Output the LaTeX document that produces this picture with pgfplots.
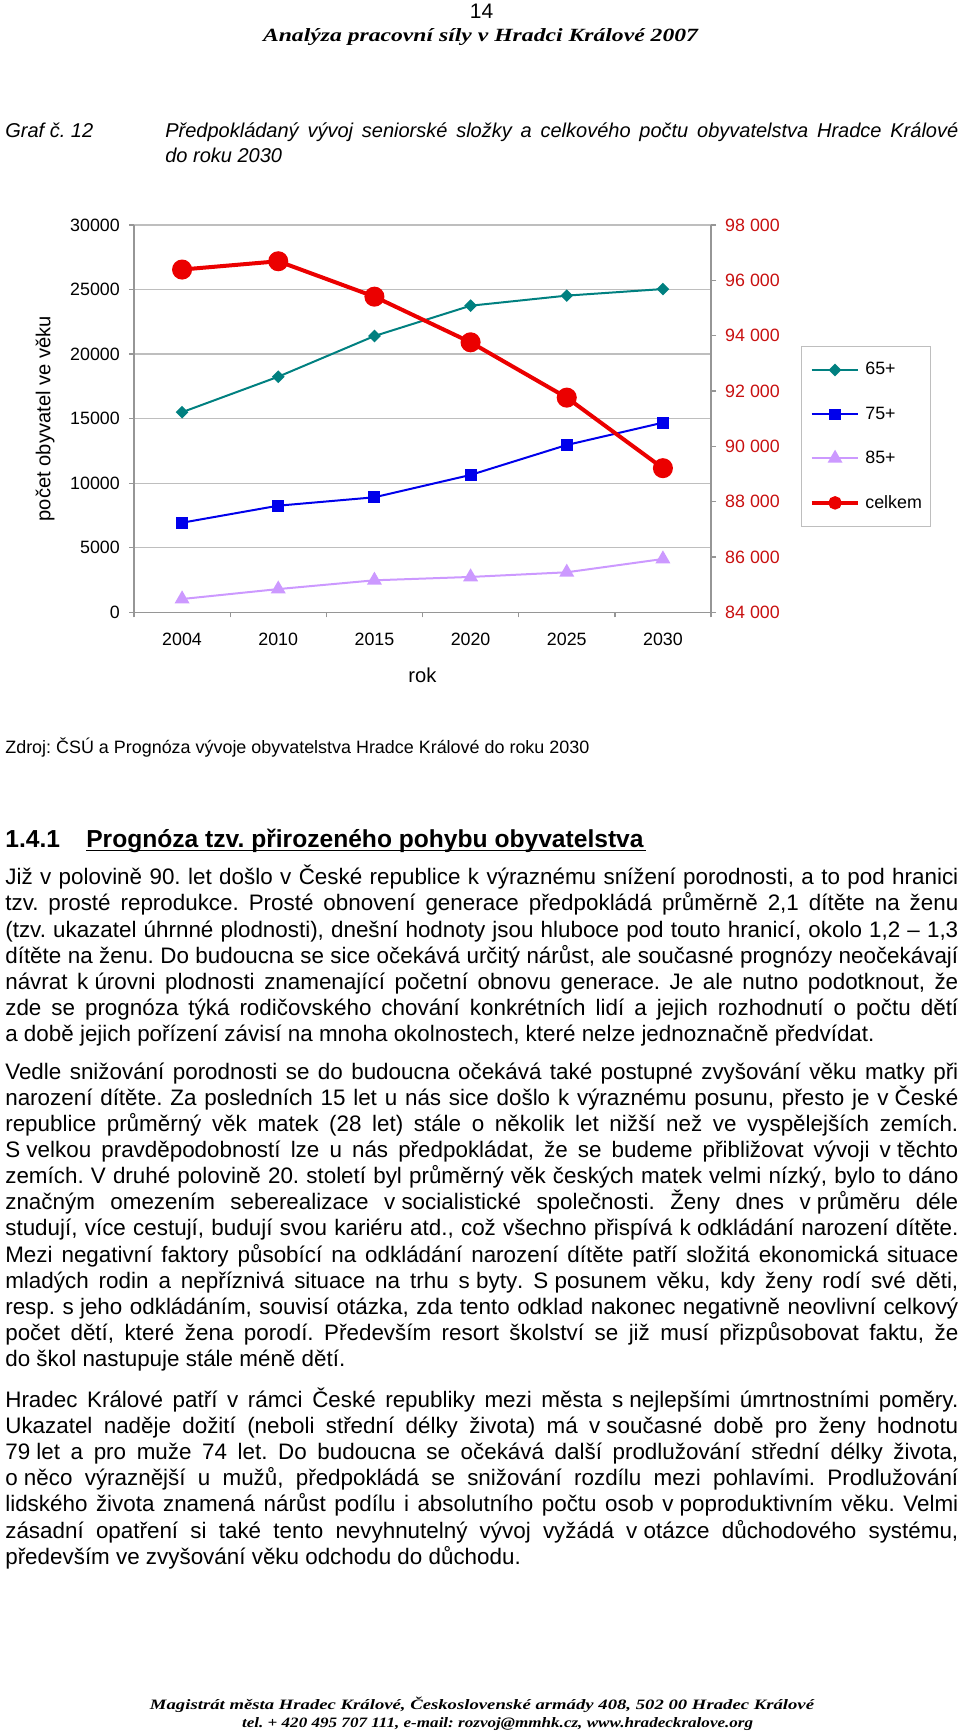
\documentclass[border=0pt]{standalone}
\usepackage{pgfplots}
\pgfplotsset{compat=1.18}
\usepackage{graphicx}
\usepackage{fontspec}
\setmainfont{Liberation Sans}
\newfontfamily\serifbi{Liberation Serif}
\definecolor{tealA}{RGB}{0,128,128}
\definecolor{blueB}{RGB}{0,0,235}
\definecolor{lavC}{RGB}{204,153,255}
\definecolor{redD}{RGB}{235,0,0}
\definecolor{darkr}{RGB}{200,16,16}
\definecolor{gridg}{RGB}{190,190,190}
\definecolor{axg}{RGB}{150,150,150}
\newcommand{\fs}[1]{\fontsize{#1}{#1}\selectfont}
\def\u{0.6pt}
\newcommand\nb[1]{\mbox{#1}}
\newcommand\JL[2]{\node[anchor=base west, inner sep=0pt, font=\fs{13.44}] at ({5*\u},{-#1*\u}) {\makebox[571.8pt][s]{#2}};}
\newcommand\LL[2]{\node[anchor=base west, inner sep=0pt, font=\fs{13.44}] at ({5*\u},{-#1*\u}) {#2};}
\frenchspacing
\begin{document}
\begin{tikzpicture}
\path[use as bounding box] (0,0) rectangle (576pt,-1040.4pt);

% header
\node[anchor=base, inner sep=0pt] at ({481.5*\u},{-18.5*\u}) {\fs{12.6}14};
\node[anchor=base, inner sep=0pt] at ({480.5*\u},{-41.7*\u}) {\resizebox{261pt}{\height}{\serifbi\bfseries\itshape\fs{11.2}Analýza pracovní síly v Hradci Králové 2007}};

% chart title
\node[anchor=base west, inner sep=0pt] at ({5*\u},{-138*\u}) {\fs{12}\itshape Graf č. 12};
\node[anchor=base west, inner sep=0pt] at ({165*\u},{-138*\u}) {\fs{12}\itshape\makebox[475.8pt][s]{Předpokládaný vývoj seniorské složky a celkového počtu obyvatelstva Hradce Králové}};
\node[anchor=base west, inner sep=0pt] at ({165*\u},{-163*\u}) {\fs{12}\itshape do roku 2030};

% chart
\begin{axis}[
  at={(134*0.6pt,-612.3*0.6pt)}, anchor=south west,
  scale only axis, width=346.2pt, height=232.38pt,
  xmin=-0.5, xmax=5.5, ymin=0, ymax=30000,
  scaled y ticks=false, scaled x ticks=false,
  axis x line*=bottom, axis y line*=left,
  axis line style={axg, line width=0.8pt},
  xtick={-0.5,0.5,1.5,2.5,3.5,4.5,5.5},
  x tick label as interval,
  xticklabels={2004,2010,2015,2020,2025,2030},
  ytick={0,5000,10000,15000,20000,25000,30000},
  yticklabels={0,5000,10000,15000,20000,25000,30000},
  ymajorgrids, grid style={gridg, line width=0.8pt},
  tick align=outside, major tick length=3pt,
  every tick/.style={axg, line width=0.8pt},
  tick label style={font=\fs{10.7}},
  yticklabel style={xshift=-2pt},
  xticklabel style={yshift=-6pt},
  xlabel={rok}, ylabel={počet obyvatel ve věku},
  label style={font=\fs{12.1}},
  xlabel style={at={(axis description cs:0.5,-0.162)}, anchor=center},
  ylabel style={at={(axis description cs:-0.154,0.5)}, anchor=center},
  clip=false,
]
\addplot[tealA, line width=1.2pt, mark=square*, mark size=2.1pt, mark options={rotate=45, fill=tealA}]
  coordinates {(0,15500)(1,18250)(2,21400)(3,23750)(4,24530)(5,25040)};
\addplot[blueB, line width=1.2pt, mark=square*, mark size=3pt, mark options={fill=blueB}]
  coordinates {(0,6940)(1,8260)(2,8910)(3,10640)(4,12960)(5,14690)};
\addplot[lavC, line width=1.2pt, mark=triangle*, mark size=4pt, mark options={fill=lavC}]
  coordinates {(0,1030)(1,1800)(2,2480)(3,2740)(4,3100)(5,4130)};
\end{axis}

\begin{axis}[
  at={(134*0.6pt,-612.3*0.6pt)}, anchor=south west,
  scale only axis, width=346.2pt, height=232.38pt,
  xmin=-0.5, xmax=5.5, ymin=84000, ymax=98000,
  scaled y ticks=false, scaled x ticks=false,
  axis x line=none, axis y line*=right,
  axis line style={axg, line width=0.8pt},
  ytick={84000,86000,88000,90000,92000,94000,96000,98000},
  yticklabels={84 000,86 000,88 000,90 000,92 000,94 000,96 000,98 000},
  yticklabel style={font=\fs{10.7}, text=darkr, xshift=2pt},
  tick align=outside, major tick length=3pt,
  every tick/.style={axg, line width=0.8pt},
  legend style={at={(axis description cs:1.1555,0.6876)}, anchor=north west,
    draw=gridg, line width=0.8pt, font=\fs{10.7},
    inner xsep=5pt, inner ysep=9.5pt, row sep=17.6pt, column sep=3pt,
    nodes={inner sep=0pt}},
  legend cell align=left,
  legend image code/.code={\draw[mark repeat=2,mark phase=2] plot coordinates {(0pt,0pt)(14pt,0pt)(28pt,0pt)};},
  clip=false,
]
\addplot[redD, line width=2.4pt, mark=*, mark size=4.8pt, mark options={fill=redD}, forget plot]
  coordinates {(0,96390)(1,96690)(2,95410)(3,93760)(4,91760)(5,89210)};
\addlegendimage{tealA, line width=1.2pt, mark=square*, mark size=2.1pt, mark options={rotate=45, fill=tealA}}
\addlegendimage{blueB, line width=1.2pt, mark=square*, mark size=2.8pt, mark options={fill=blueB}}
\addlegendimage{lavC, line width=1.2pt, mark=triangle*, mark size=4pt, mark options={fill=lavC}}
\addlegendimage{redD, line width=2.4pt, mark=*, mark size=2.8pt, mark options={fill=redD}}
\legend{65+,75+,85+,celkem}
\end{axis}

% source
\node[anchor=base west, inner sep=0pt] at ({5*\u},{-753*\u}) {\resizebox{350.4pt}{\height}{\fs{10.75}Zdroj: ČSÚ a Prognóza vývoje obyvatelstva Hradce Králové do roku 2030}};

% heading
\node[anchor=base west, inner sep=0pt] at ({5*\u},{-847*\u}) {\fs{14.76}\bfseries 1.4.1};
\node[anchor=base west, inner sep=0pt] at ({86*\u},{-847*\u}) {\fs{14.76}\bfseries Prognóza tzv. přirozeného pohybu obyvatelstva};
\draw[line width=1.1pt] ({86*\u},{-850.5*\u}) -- ({646*\u},{-850.5*\u});

% paragraph 1
\JL{884.8}{Již v polovině 90. let došlo v České republice k výraznému snížení porodnosti, a to pod hranici}
\JL{910.9}{tzv. prosté reprodukce. Prosté obnovení generace předpokládá průměrně 2,1 dítěte na ženu}
\JL{937.0}{(tzv. ukazatel úhrnné plodnosti), dnešní hodnoty jsou hluboce pod touto hranicí, okolo 1,2 – 1,3}
\JL{963.1}{dítěte na ženu. Do budoucna se sice očekává určitý nárůst, ale současné prognózy neočekávají}
\JL{989.2}{návrat \nb{k úrovni} plodnosti znamenající početní obnovu generace. Je ale nutno podotknout, že}
\JL{1015.3}{zde se prognóza týká rodičovského chování konkrétních lidí a jejich rozhodnutí o počtu dětí}
\LL{1041.4}{a době jejich pořízení závisí na mnoha okolnostech, které nelze jednoznačně předvídat.}

% paragraph 2
\JL{1079.3}{Vedle snižování porodnosti se do budoucna očekává také postupné zvyšování věku matky při}
\JL{1105.4}{narození dítěte. Za posledních 15 let u nás sice došlo k výraznému posunu, přesto je \nb{v České}}
\JL{1131.5}{republice průměrný věk matek (28 let) stále o několik let nižší než ve vyspělejších zemích.}
\JL{1157.6}{\nb{S velkou} pravděpodobností lze u nás předpokládat, že se budeme přibližovat vývoji \nb{v těchto}}
\JL{1183.7}{zemích. V druhé polovině 20. století byl průměrný věk českých matek velmi nízký, bylo to dáno}
\JL{1209.8}{značným omezením seberealizace \nb{v socialistické} společnosti. Ženy dnes \nb{v průměru} déle}
\JL{1235.9}{studují, více cestují, budují svou kariéru atd., což všechno přispívá \nb{k odkládání} narození dítěte.}
\JL{1262.0}{Mezi negativní faktory působící na odkládání narození dítěte patří složitá ekonomická situace}
\JL{1288.1}{mladých rodin a nepříznivá situace na trhu \nb{s byty}. \nb{S posunem} věku, kdy ženy rodí své děti,}
\JL{1314.2}{resp. \nb{s jeho} odkládáním, souvisí otázka, zda tento odklad nakonec negativně neovlivní celkový}
\JL{1340.3}{počet dětí, které žena porodí. Především resort školství se již musí přizpůsobovat faktu, že}
\LL{1366.4}{do škol nastupuje stále méně dětí.}

% paragraph 3
\JL{1407.5}{Hradec Králové patří v rámci České republiky mezi města \nb{s nejlepšími} úmrtnostními poměry.}
\JL{1433.6}{Ukazatel naděje dožití (neboli střední délky života) má \nb{v současné} době pro ženy hodnotu}
\JL{1459.7}{\nb{79 let} a pro muže 74 let. Do budoucna se očekává další prodlužování střední délky života,}
\JL{1485.8}{\nb{o něco} výraznější u mužů, předpokládá se snižování rozdílu mezi pohlavími. Prodlužování}
\JL{1511.9}{lidského života znamená nárůst podílu i absolutního počtu osob \nb{v poproduktivním} věku. Velmi}
\JL{1538.0}{zásadní opatření si také tento nevyhnutelný vývoj vyžádá \nb{v otázce} důchodového systému,}
\LL{1564.1}{především ve zvyšování věku odchodu do důchodu.}

% footer
\node[anchor=base, inner sep=0pt] at ({482*\u},{-1709.5*\u}) {\resizebox{398.4pt}{\height}{\serifbi\bfseries\itshape\fs{8.6}Magistrát města Hradec Králové, Československé armády 408, 502 00 Hradec Králové}};
\node[anchor=base, inner sep=0pt] at ({497.6*\u},{-1727.5*\u}) {\resizebox{306.6pt}{\height}{\serifbi\bfseries\itshape\fs{8.6}tel. + 420 495 707 111, e-mail: rozvoj@mmhk.cz, www.hradeckralove.org}};
\end{tikzpicture}
\end{document}
